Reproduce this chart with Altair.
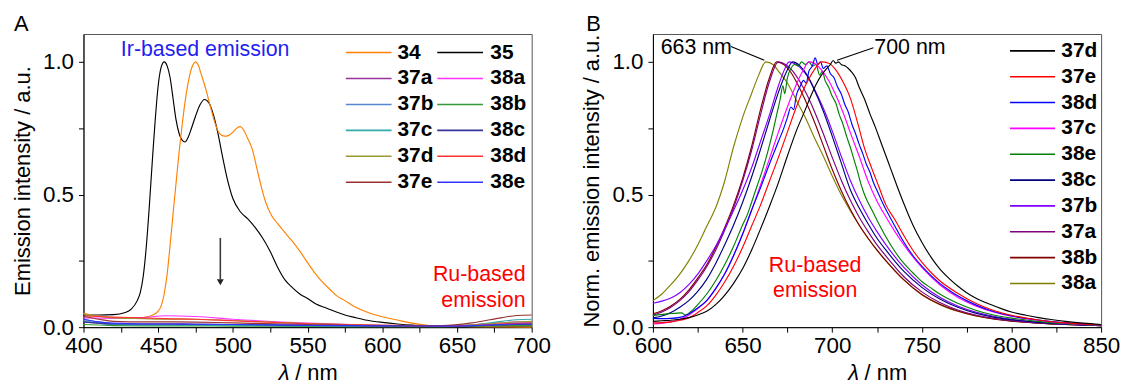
import altair as alt
import pandas as pd

FONT = "Liberation Sans"

# ---------------- Panel A: emission intensity (a.u.) vs wavelength (nm) ----------------
A_34 = [(400, 0.052), (405, 0.046), (410, 0.041), (420, 0.036), (430, 0.034), (438, 0.035),
        (442, 0.038), (446, 0.045), (449, 0.055), (452, 0.08), (454, 0.125), (456, 0.20),
        (458, 0.31), (460, 0.43), (462, 0.545), (464, 0.66), (466, 0.76), (468, 0.85),
        (470, 0.92), (472, 0.97), (474, 0.995), (475, 1.0), (477, 0.985), (479, 0.95),
        (482, 0.895), (485, 0.83), (488, 0.77), (491, 0.73), (494, 0.72), (497, 0.722),
        (500, 0.735), (503, 0.752), (505, 0.756), (507, 0.745), (510, 0.71), (513, 0.67),
        (516, 0.60), (519, 0.53), (522, 0.47), (526, 0.42), (530, 0.39), (535, 0.355),
        (540, 0.322), (545, 0.285), (550, 0.243), (555, 0.203), (560, 0.17), (565, 0.142),
        (570, 0.116), (575, 0.10), (580, 0.082), (590, 0.056), (600, 0.039), (610, 0.027),
        (620, 0.015), (630, 0.007), (640, 0.004), (660, 0.002), (700, 0.0)]

A_35 = [(400, 0.046), (410, 0.046), (420, 0.047), (428, 0.055), (432, 0.068), (436, 0.10),
        (438, 0.13), (440, 0.192), (442, 0.30), (444, 0.45), (446, 0.62), (448, 0.78),
        (450, 0.91), (452, 0.98), (454, 1.0), (456, 0.985), (458, 0.94), (460, 0.86),
        (462, 0.78), (464, 0.73), (466, 0.705), (468, 0.698), (470, 0.715), (472, 0.745),
        (475, 0.795), (478, 0.838), (481, 0.858), (484, 0.845), (487, 0.80), (490, 0.73),
        (493, 0.645), (496, 0.565), (500, 0.485), (505, 0.435), (510, 0.408), (515, 0.375),
        (520, 0.335), (525, 0.285), (530, 0.225), (535, 0.177), (540, 0.148), (545, 0.124),
        (550, 0.108), (556, 0.086), (562, 0.073), (568, 0.06), (575, 0.046), (582, 0.036),
        (590, 0.026), (600, 0.018), (610, 0.012), (620, 0.008), (635, 0.006), (650, 0.005),
        (670, 0.004), (700, 0.004)]

# the weak residual emission of the dyads, sampled on a common grid
WL_LOW = [400, 410, 420, 440, 455, 475, 500, 550, 600, 640, 660, 680, 690, 700]
A_37a = [0.020, 0.015, 0.012, 0.012, 0.012, 0.011, 0.009, 0.006, 0.004, 0.003, 0.006, 0.012, 0.015, 0.016]
A_38a = [0.035, 0.034, 0.033, 0.036, 0.043, 0.040, 0.030, 0.015, 0.007, 0.004, 0.008, 0.016, 0.020, 0.021]
A_37b = [0.030, 0.020, 0.012, 0.008, 0.008, 0.008, 0.007, 0.005, 0.003, 0.003, 0.005, 0.010, 0.012, 0.013]
A_38b = [0.010, 0.008, 0.006, 0.005, 0.005, 0.005, 0.004, 0.003, 0.002, 0.002, 0.003, 0.005, 0.006, 0.006]
A_37c = [0.025, 0.015, 0.010, 0.008, 0.008, 0.008, 0.007, 0.005, 0.004, 0.004, 0.009, 0.022, 0.028, 0.030]
A_38c = [0.020, 0.015, 0.012, 0.012, 0.012, 0.011, 0.010, 0.007, 0.005, 0.004, 0.005, 0.008, 0.010, 0.010]
A_37d = [0.050, 0.040, 0.035, 0.032, 0.030, 0.030, 0.025, 0.014, 0.007, 0.005, 0.008, 0.016, 0.020, 0.022]
A_38d = [0.042, 0.040, 0.038, 0.035, 0.032, 0.030, 0.024, 0.013, 0.007, 0.005, 0.007, 0.012, 0.014, 0.015]
A_37e = [0.040, 0.030, 0.022, 0.020, 0.020, 0.019, 0.016, 0.010, 0.006, 0.006, 0.016, 0.036, 0.044, 0.046]
A_38e = [0.030, 0.020, 0.015, 0.012, 0.012, 0.011, 0.010, 0.007, 0.005, 0.004, 0.006, 0.010, 0.012, 0.012]

A_NAMES = ["34", "35", "37a", "38a", "37b", "38b", "37c", "38c", "37d", "38d", "37e", "38e"]
A_COLORS = ["#FF8000", "#000000", "#993399", "#FF33FF", "#5588CC", "#33993A",
            "#33AAAA", "#333399", "#999933", "#FF3333", "#993333", "#3333FF"]

# ---------------- Panel B: normalised Ru-based emission ----------------
B_37d = [(600, 0.022), (605, 0.024), (610, 0.026), (615, 0.03), (620, 0.036), (625, 0.046),
         (630, 0.06), (635, 0.085), (640, 0.12), (645, 0.165), (650, 0.22), (655, 0.29),
         (660, 0.37), (665, 0.455), (670, 0.545), (675, 0.645), (680, 0.74), (685, 0.82),
         (688, 0.87), (691, 0.915), (694, 0.95), (697, 0.975), (699, 0.99), (700.5, 1.005),
         (702, 0.995), (703.5, 1.0), (705, 0.99), (707, 0.985), (709, 0.975), (711, 0.96),
         (713, 0.94), (715, 0.905), (718, 0.86), (721, 0.805), (724, 0.755), (727, 0.70),
         (730, 0.645), (733, 0.59), (736, 0.535), (740, 0.465), (745, 0.385), (750, 0.32),
         (755, 0.265), (760, 0.22), (765, 0.185), (770, 0.155), (775, 0.13), (780, 0.11),
         (788, 0.086), (795, 0.068), (800, 0.057), (808, 0.045), (815, 0.036), (822, 0.029),
         (830, 0.022), (840, 0.015), (850, 0.01)]
B_37e = [(600, 0.016), (605, 0.017), (610, 0.02), (615, 0.026), (620, 0.035), (625, 0.055),
         (630, 0.08), (635, 0.12), (640, 0.17), (645, 0.23), (650, 0.30), (655, 0.38),
         (660, 0.46), (665, 0.55), (670, 0.64), (675, 0.735), (680, 0.83), (685, 0.91),
         (690, 0.97), (694, 1.0), (698, 0.995), (702, 0.97), (706, 0.925), (710, 0.865),
         (714, 0.775), (718, 0.675), (722, 0.60), (726, 0.53), (730, 0.46), (735, 0.405),
         (740, 0.345), (745, 0.29), (750, 0.245), (755, 0.207), (760, 0.175), (770, 0.128),
         (780, 0.09), (790, 0.063), (800, 0.045), (815, 0.027), (830, 0.016), (850, 0.008)]
B_38d = [(600, 0.033), (605, 0.032), (610, 0.033), (615, 0.037), (620, 0.05), (625, 0.072),
         (630, 0.10), (635, 0.145), (640, 0.20), (645, 0.27), (650, 0.35), (655, 0.44),
         (660, 0.525), (665, 0.615), (670, 0.70), (673, 0.75), (675, 0.79), (677, 0.83),
         (678.5, 0.82), (680, 0.875), (682, 0.905), (684, 0.93), (685.5, 0.92), (687, 0.965),
         (689, 0.985), (690.5, 1.015), (692, 0.99), (693.5, 1.0), (695, 0.975), (697, 0.985),
         (699, 0.955), (701, 0.94), (703, 0.905), (705, 0.88), (707, 0.84), (709, 0.81),
         (711, 0.765), (713, 0.73), (715, 0.69), (717, 0.655), (719, 0.615), (721, 0.585),
         (723, 0.545), (725, 0.515), (728, 0.47), (731, 0.43), (735, 0.38), (740, 0.32),
         (745, 0.27), (750, 0.23), (755, 0.195), (760, 0.165), (765, 0.14), (770, 0.118),
         (775, 0.10), (780, 0.084), (790, 0.059), (800, 0.042), (815, 0.027), (830, 0.016),
         (850, 0.008)]
B_37c = [(600, 0.012), (605, 0.015), (610, 0.02), (615, 0.03), (620, 0.045), (625, 0.07),
         (630, 0.10), (635, 0.145), (640, 0.20), (645, 0.27), (650, 0.35), (655, 0.44),
         (660, 0.535), (665, 0.635), (670, 0.735), (675, 0.83), (680, 0.915), (684, 0.97),
         (687, 1.0), (690, 0.995), (694, 0.97), (698, 0.93), (702, 0.875), (706, 0.81),
         (710, 0.735), (715, 0.645), (720, 0.55), (725, 0.475), (730, 0.415), (735, 0.36),
         (740, 0.31), (750, 0.225), (760, 0.16), (770, 0.113), (780, 0.08), (790, 0.057),
         (800, 0.041), (815, 0.026), (830, 0.015), (850, 0.008)]
B_38e = [(600, 0.044), (604, 0.047), (608, 0.05), (612, 0.052), (616, 0.054), (618, 0.046),
         (621, 0.058), (625, 0.085), (630, 0.125), (635, 0.175), (640, 0.235), (645, 0.305),
         (650, 0.385), (653, 0.43), (655, 0.47), (658, 0.53), (661, 0.59), (664, 0.66),
         (667, 0.74), (669, 0.80), (671, 0.86), (672.5, 0.91), (673.5, 0.88), (675, 0.94),
         (677, 0.975), (679, 0.99), (681, 0.985), (683, 1.0), (685, 0.99), (687, 1.0),
         (689, 0.985), (691, 0.99), (693, 0.95), (694.5, 0.965), (696, 0.93), (698, 0.905),
         (700, 0.87), (702, 0.845), (704, 0.80), (706, 0.765), (708, 0.72), (710, 0.68),
         (712, 0.635), (714, 0.59), (716, 0.54), (718, 0.50), (720, 0.47), (723, 0.43),
         (726, 0.39), (730, 0.34), (735, 0.285), (740, 0.24), (745, 0.205), (750, 0.172),
         (755, 0.148), (760, 0.125), (770, 0.09), (780, 0.064), (790, 0.046), (800, 0.034),
         (815, 0.022), (830, 0.013), (850, 0.007)]
B_38c = [(600, 0.035), (605, 0.042), (610, 0.055), (615, 0.075), (620, 0.10), (625, 0.135),
         (630, 0.18), (635, 0.24), (640, 0.31), (645, 0.385), (650, 0.47), (655, 0.565),
         (660, 0.67), (665, 0.78), (670, 0.885), (674, 0.955), (678, 1.0), (682, 0.985),
         (686, 0.95), (690, 0.895), (695, 0.815), (700, 0.72), (705, 0.62), (710, 0.52),
         (715, 0.45), (720, 0.39), (725, 0.335), (730, 0.29), (740, 0.21), (750, 0.15),
         (760, 0.106), (770, 0.075), (780, 0.053), (790, 0.038), (800, 0.028), (815, 0.018),
         (830, 0.011), (850, 0.006)]
B_37b = [(600, 0.09), (605, 0.098), (610, 0.11), (615, 0.13), (620, 0.16), (625, 0.20),
         (630, 0.25), (635, 0.305), (640, 0.37), (645, 0.44), (650, 0.515), (655, 0.60),
         (660, 0.70), (665, 0.80), (670, 0.91), (673, 0.965), (676, 1.0), (680, 0.99),
         (684, 0.965), (688, 0.925), (692, 0.87), (696, 0.81), (700, 0.74), (705, 0.645),
         (710, 0.555), (715, 0.48), (720, 0.415), (725, 0.36), (730, 0.31), (740, 0.225),
         (750, 0.16), (760, 0.113), (770, 0.08), (780, 0.057), (790, 0.041), (800, 0.03),
         (815, 0.019), (830, 0.012), (850, 0.007)]
B_37a = [(600, 0.045), (605, 0.057), (610, 0.075), (615, 0.10), (620, 0.133), (625, 0.177),
         (630, 0.228), (635, 0.29), (640, 0.365), (645, 0.45), (650, 0.55), (655, 0.665),
         (660, 0.80), (665, 0.925), (670, 1.0), (674, 0.99), (678, 0.965), (682, 0.925),
         (686, 0.875), (690, 0.815), (695, 0.73), (700, 0.64), (705, 0.555), (710, 0.48),
         (715, 0.415), (720, 0.36), (725, 0.31), (730, 0.268), (740, 0.19), (750, 0.133),
         (760, 0.093), (770, 0.065), (780, 0.046), (790, 0.033), (800, 0.024), (815, 0.016),
         (830, 0.01), (850, 0.006)]
B_38b = [(600, 0.05), (605, 0.062), (610, 0.08), (615, 0.105), (620, 0.14), (625, 0.185),
         (630, 0.235), (635, 0.30), (640, 0.375), (645, 0.46), (650, 0.56), (655, 0.68),
         (660, 0.82), (665, 0.94), (669, 1.0), (673, 0.99), (677, 0.96), (680, 0.925),
         (685, 0.855), (690, 0.775), (695, 0.685), (700, 0.595), (705, 0.515), (710, 0.445),
         (715, 0.385), (720, 0.335), (725, 0.29), (730, 0.25), (740, 0.178), (750, 0.123),
         (760, 0.086), (770, 0.061), (780, 0.043), (790, 0.031), (800, 0.023), (815, 0.015),
         (830, 0.01), (850, 0.006)]
B_38a = [(600, 0.10), (605, 0.125), (610, 0.16), (615, 0.20), (620, 0.25), (625, 0.31),
         (630, 0.38), (635, 0.45), (640, 0.55), (645, 0.68), (650, 0.79), (655, 0.88),
         (659, 0.95), (663, 1.0), (667, 0.99), (670, 0.965), (675, 0.92), (680, 0.855),
         (685, 0.79), (690, 0.715), (695, 0.645), (700, 0.57), (705, 0.50), (710, 0.44),
         (715, 0.385), (720, 0.335), (725, 0.29), (730, 0.25), (740, 0.178), (750, 0.122),
         (760, 0.085), (770, 0.06), (780, 0.042), (790, 0.031), (800, 0.023), (815, 0.015),
         (830, 0.01), (850, 0.006)]

B_NAMES = ["37d", "37e", "38d", "37c", "38e", "38c", "37b", "37a", "38b", "38a"]
B_COLORS = ["#000000", "#FF0000", "#0000FF", "#FF00FF", "#008000",
            "#000080", "#8000FF", "#800080", "#800000", "#808000"]

Y_TICKS = [0, 0.25, 0.5, 0.75, 1.0]
A_X_TICKS = list(range(400, 701, 25))
B_X_TICKS = list(range(600, 851, 25))

PLOT_W, PLOT_H = 451, 295
Y_MAX = 1.105

LABEL_SIZE = 22.5
TITLE_SIZE = 22
LEGEND_SIZE = 21
NOTE_SIZE = 21.5


# ---------------- helpers ----------------
def pairs_frame(name, pairs):
    return pd.DataFrame({"wl": [p[0] for p in pairs], "val": [p[1] for p in pairs], "cmp": name})


def grid_frame(name, values):
    return pd.DataFrame({"wl": WL_LOW, "val": values, "cmp": name})


def px_to_val(py):
    # vertical pixel offset inside the plot -> intensity units
    return (PLOT_H - py) / PLOT_H * Y_MAX


def x_axis(ticks):
    return alt.Axis(values=ticks, labelExpr="datum.value % 50 === 0 ? datum.label : ''",
                    title=None, grid=False, tickSize=5, labelPadding=3,
                    labelFontSize=LABEL_SIZE, labelFont=FONT, labelColor="black",
                    tickColor="black", domainColor="black", labelFlush=False)


def y_axis(title):
    return alt.Axis(values=Y_TICKS,
                    labelExpr="datum.value % 0.5 === 0 ? format(datum.value, '.1f') : ''",
                    title=title, grid=False, tickSize=5, labelPadding=5, titlePadding=8,
                    labelFontSize=LABEL_SIZE, titleFontSize=TITLE_SIZE, labelFont=FONT,
                    titleFont=FONT, titleFontWeight="normal", labelColor="black",
                    titleColor="black", tickColor="black", domainColor="black",
                    labelFlush=False)


def panel(xdom, xticks, ytitle, names, colors, curves_back, curves_front, legend_df,
          notes, panel_letter, letter_dx):
    xs = alt.Scale(domain=xdom, nice=False, zero=False)
    ys = alt.Scale(domain=[0, Y_MAX], nice=False, zero=True)
    cs = alt.Scale(domain=names, range=colors)
    xa, ya = x_axis(xticks), y_axis(ytitle)

    def X(f):
        return alt.X(f, type="quantitative", scale=xs, axis=xa)

    def Y(f):
        return alt.Y(f, type="quantitative", scale=ys, axis=ya)

    layers = []
    for df in (curves_back, curves_front):
        layers.append(
            alt.Chart(df).mark_line(strokeWidth=1.15, interpolate="monotone").encode(
                x=X("wl"), y=Y("val"),
                color=alt.Color("cmp:N", scale=cs, legend=None),
                detail="cmp:N"))

    # legend drawn inside the frame
    layers.append(alt.Chart(legend_df).mark_rule(strokeWidth=1.6).encode(
        x=X("x1"), x2="x2", y=Y("y"), color=alt.Color("cmp:N", scale=cs, legend=None)))
    layers.append(alt.Chart(legend_df).mark_text(
        align="left", baseline="middle", font=FONT, fontSize=LEGEND_SIZE, fontWeight="bold",
        color="black").encode(x=X("lx"), y=Y("y"), text="cmp:N"))

    layers.extend(notes(X, Y))

    # axis title with an italic lambda
    cx = PLOT_W / 2
    lam = pd.DataFrame({"t": ["λ"]})
    unit = pd.DataFrame({"t": ["/ nm"]})
    layers.append(alt.Chart(lam).mark_text(
        align="left", baseline="alphabetic", font=FONT, fontSize=TITLE_SIZE, fontStyle="italic",
        color="black").encode(x=alt.value(cx - 29), y=alt.value(PLOT_H + 53), text="t:N"))
    layers.append(alt.Chart(unit).mark_text(
        align="left", baseline="alphabetic", font=FONT, fontSize=TITLE_SIZE,
        color="black").encode(x=alt.value(cx - 12.5), y=alt.value(PLOT_H + 53), text="t:N"))
    layers.append(alt.Chart(pd.DataFrame({"t": [panel_letter]})).mark_text(
        align="left", baseline="alphabetic", font=FONT, fontSize=TITLE_SIZE,
        color="black").encode(x=alt.value(letter_dx), y=alt.value(-3), text="t:N"))

    return alt.layer(*layers).properties(width=PLOT_W, height=PLOT_H)


# ---------------- panel A data frames ----------------
a_main = pd.concat([pairs_frame("35", A_35), pairs_frame("34", A_34)], ignore_index=True)
a_low = pd.concat([
    grid_frame("37a", A_37a), grid_frame("38a", A_38a), grid_frame("37b", A_37b),
    grid_frame("38b", A_38b), grid_frame("37c", A_37c), grid_frame("38c", A_38c),
    grid_frame("37d", A_37d), grid_frame("38d", A_38d), grid_frame("37e", A_37e),
    grid_frame("38e", A_38e)], ignore_index=True)

# two-column legend: (line start, line end, label start) in nm for each column
A_LEG_COLS = [(575.6, 606.2, 610.2), (636.8, 667.4, 672.3)]
a_leg_rows = []
for i, nm in enumerate(A_NAMES):
    c, r = i % 2, i // 2
    x1, x2, lx = A_LEG_COLS[c]
    a_leg_rows.append({"cmp": nm, "x1": x1, "x2": x2, "lx": lx,
                       "y": px_to_val(18.7 + r * 26.1)})
a_leg = pd.DataFrame(a_leg_rows)


def notes_a(X, Y):
    out = []
    ir = pd.DataFrame({"wl": [425.0], "val": [1.044], "t": ["Ir-based emission"]})
    out.append(alt.Chart(ir).mark_text(align="left", baseline="middle", font=FONT,
                                       fontSize=NOTE_SIZE, color="#1F1FF0").encode(
        x=X("wl"), y=Y("val"), text="t:N"))
    ru = pd.DataFrame({"wl": [695.9, 695.9], "val": [0.196, 0.100],
                       "t": ["Ru-based", "emission"]})
    out.append(alt.Chart(ru).mark_text(align="right", baseline="middle", font=FONT,
                                       fontSize=NOTE_SIZE, color="#FF0000").encode(
        x=X("wl"), y=Y("val"), text="t:N"))
    arrow = pd.DataFrame({"wl": [491.6], "top": [0.336], "bot": [0.18]})
    out.append(alt.Chart(arrow).mark_rule(strokeWidth=1.6, color="#3A3A3A").encode(
        x=X("wl"), y=Y("top"), y2="bot"))
    head = pd.DataFrame({"wl": [491.6], "val": [0.169]})
    out.append(alt.Chart(head).mark_point(shape="triangle-down", filled=True, size=48,
                                          color="#222222", opacity=1).encode(
        x=X("wl"), y=Y("val")))
    return out


# ---------------- panel B data frames ----------------
b_series = {"37d": B_37d, "37e": B_37e, "38d": B_38d, "37c": B_37c, "38e": B_38e,
            "38c": B_38c, "37b": B_37b, "37a": B_37a, "38b": B_38b, "38a": B_38a}
b_back = pd.concat([pairs_frame(n, b_series[n]) for n in reversed(B_NAMES)],
                   ignore_index=True)
b_front = b_back.iloc[0:0]

b_leg = pd.DataFrame([{"cmp": nm, "x1": 799.2, "x2": 824.3, "lx": 827.8,
                       "y": px_to_val(17.0 + r * 26.0)} for r, nm in enumerate(B_NAMES)])


def notes_b(X, Y):
    out = []
    lbl = pd.DataFrame({"wl": [604.3, 723.5], "val": [1.051, 1.051], "t": ["663 nm", "700 nm"]})
    out.append(alt.Chart(lbl).mark_text(align="left", baseline="middle", font=FONT,
                                        fontSize=NOTE_SIZE, color="black").encode(
        x=X("wl"), y=Y("val"), text="t:N"))
    ptr = pd.DataFrame({"x1": [643.5, 723.0], "y1": [1.058, 1.053],
                        "x2": [662.1, 702.7], "y2": [1.006, 1.006]})
    out.append(alt.Chart(ptr).mark_rule(strokeWidth=1.1, color="black").encode(
        x=X("x1"), y=Y("y1"), x2="x2", y2="y2"))
    ru = pd.DataFrame({"wl": [690.5, 690.5], "val": [0.229, 0.138],
                       "t": ["Ru-based", "emission"]})
    out.append(alt.Chart(ru).mark_text(align="center", baseline="middle", font=FONT,
                                       fontSize=NOTE_SIZE, color="#FF0000").encode(
        x=X("wl"), y=Y("val"), text="t:N"))
    return out


left = panel([400, 700], A_X_TICKS, "Emission intensity / a.u.", A_NAMES, A_COLORS,
             a_main, a_low, a_leg, notes_a, "A", -70)
right = panel([600, 850], B_X_TICKS, "Norm. emission intensity / a.u.", B_NAMES, B_COLORS,
              b_back, b_front, b_leg, notes_b, "B", -67)

chart = alt.hconcat(left, right, spacing=29).resolve_scale(
    x="independent", y="independent", color="independent"
).properties(
    padding={"left": 11, "top": 11, "right": 0, "bottom": 0},
    background="white",
).configure_view(stroke="#555555", strokeWidth=1)

chart.save("out.html", embed_options={"renderer": "svg", "actions": False})
